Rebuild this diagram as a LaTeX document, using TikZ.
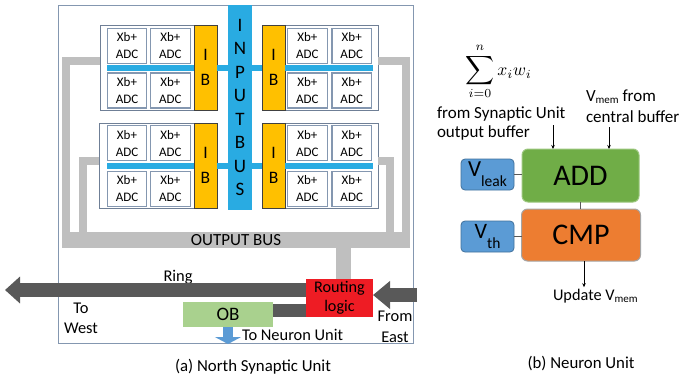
\documentclass[tikz,border=0pt]{standalone}
\usepackage{fontspec}
\usepackage{graphicx}
\setmainfont{Carlito}
\usetikzlibrary{arrows.meta}
\definecolor{busblue}{HTML}{29ABE2}
\definecolor{ibgold}{HTML}{FFC000}
\definecolor{obusc}{HTML}{BFBFBF}
\definecolor{ringc}{HTML}{595959}
\definecolor{routec}{HTML}{EE1C24}
\definecolor{obgreen}{HTML}{A9D18E}
\definecolor{nblue}{HTML}{5B9BD5}
\definecolor{nbluedark}{HTML}{41719C}
\definecolor{addgreen}{HTML}{70AD47}
\definecolor{addborder}{HTML}{9CC77F}
\definecolor{cmporange}{HTML}{ED7D31}
\definecolor{cmpborder}{HTML}{A5A5A5}
\definecolor{framec}{HTML}{8497B0}
\definecolor{grpc}{HTML}{6F7F96}
\definecolor{cellc}{HTML}{8497B0}
\tikzset{
  unitframe/.style={draw=framec, line width=1pt},
  grp/.style={draw=grpc, line width=1pt, fill=white, minimum height=85pt},
  cellbox/.style={draw=cellc, line width=1.1pt, fill=white, minimum width=39.5pt, minimum height=35pt, align=center, font=\fontsize{13}{17}\selectfont},
  ibbox/.style={draw=black!75, line width=0.8pt, fill=ibgold, minimum width=23pt, minimum height=85pt, align=center, font=\fontsize{17.5}{25}\selectfont},
  ibus/.style={fill=busblue, align=center, font=\fontsize{19}{23.5}\selectfont},
  bline/.style={draw=busblue, line width=6pt},
  oloop/.style={draw=obusc, line width=7.5pt},
  obar/.style={fill=obusc, font=\fontsize{17}{17}\selectfont},
  ringline/.style={draw=ringc, line width=14pt},
  lbl/.style={font=\fontsize{16.4}{20.5}\selectfont, align=center},
  nlbl/.style={font=\fontsize{17}{18.7}\selectfont, align=left},
  nbox/.style={rounded corners=6pt, line width=1pt, font=\fontsize{30}{30}\selectfont},
  vbox/.style={rounded corners=4pt, fill=nblue, draw=nbluedark, line width=0.8pt, minimum width=53pt, minimum height=31pt},
  thin/.style={draw=ringc, line width=0.8pt},
  smallarr/.style={draw=black, line width=0.8pt, -{Stealth[length=4pt,width=3.5pt]}},
}
\begin{document}
\begin{tikzpicture}[x=1pt,y=-1pt,every node/.style={inner sep=0pt,outer sep=0pt}]
\fill[white] (0,0) rectangle (679,381);
\useasboundingbox (0,0) rectangle (679,381);

% ---------------- (a) North Synaptic Unit ----------------
\node[unitframe, minimum width=355pt, minimum height=338pt] (unit) at (235.5,174) {};

\node[grp, minimum width=117pt] (gtl) at (158.5,67.5) {};
\node[grp, minimum width=116pt] (gtr) at (320.25,67.5) {};
\node[grp, minimum width=118pt] (gbl) at (158,165.75) {};
\node[grp, minimum width=116pt] (gbr) at (320.25,165.75) {};

\node[obar, minimum width=348pt, minimum height=16pt] (obus) at (236,240) {OUTPUT BUS};
\draw[oloop] ([yshift=6.5pt]gtl.west) -| ([xshift=4pt]obus.north west);
\draw[oloop] ([yshift=6.5pt]gtr.east) -| ([xshift=-4pt]obus.north east);
\draw[oloop] ([yshift=4.75pt]gbl.west) -| ([xshift=21pt]obus.north west);
\draw[oloop] ([yshift=4.75pt]gbr.east) -| ([xshift=-20pt]obus.north east);

\node[ibus, minimum width=24pt, minimum height=205pt] (inbus) at (240,107.5) {I\\N\\P\\U\\T\\B\\U\\S};

\node[ibbox] (ibtl) at (205.5,67.5) {I\\B};
\node[ibbox] (ibtr) at (273.6,67.5) {I\\B};
\node[ibbox] (ibbl) at (205.5,165.75) {I\\B};
\node[ibbox] (ibbr) at (273.6,165.75) {I\\B};

\draw[bline] ([xshift=7pt]gtl.west) -- (ibtl.west);
\draw[bline] (ibtl.east) -- (inbus.west |- ibtl.east);
\draw[bline] (inbus.east |- ibtr.west) -- (ibtr.west);
\draw[bline] (ibtr.east) -- ([xshift=-5pt]gtr.east);
\draw[bline] ([xshift=8pt]gbl.west) -- (ibbl.west);
\draw[bline] (ibbl.east) -- (inbus.west |- ibbl.east);
\draw[bline] (inbus.east |- ibbr.west) -- (ibbr.west);
\draw[bline] (ibbr.east) -- ([xshift=-5pt]gbr.east);

\foreach \g/\xa/\xb/\ya/\yb in {tl/127/170.3/45.8/90.5, tr/307.3/351.7/45.8/90.5, bl/127/170.3/143.3/188.7, br/307.3/351.7/143.3/188.7}{
  \node[cellbox] (c-\g-1) at (\xa,\ya) {Xb+\\ADC};
  \node[cellbox] (c-\g-2) at (\xb,\ya) {Xb+\\ADC};
  \node[cellbox] (c-\g-3) at (\xa,\yb) {Xb+\\ADC};
  \node[cellbox] (c-\g-4) at (\xb,\yb) {Xb+\\ADC};
}

\node[fill=routec, minimum width=67pt, minimum height=38pt, align=center, font=\fontsize{16.2}{18.7}\selectfont] (route) at (339.5,298) {Routing\\logic};
\draw[obusc, line width=15pt] ([xshift=4pt]route.north) -- ([xshift=4pt]route.north |- obus.south);

\node[fill=obgreen, minimum width=90pt, minimum height=25pt, font=\fontsize{19}{19}\selectfont] (ob) at (228,314.5) {OB};

\node[lbl, anchor=base] (ringlbl) at (178,281.5) {Ring};
\coordinate (west) at (5,290);
\coordinate (east) at (417,295);
\coordinate (nu) at (229,344);
\draw[ringline, -{Triangle[length=15pt,width=26pt]}] ([yshift=8pt]route.west) -- ([yshift=8pt]route.west -| west);
\draw[ringline, -{Triangle[length=17pt,width=27pt]}] (east) -- (route.east |- east);
\draw[ringc, line width=13pt] ([yshift=4pt]ob.east) -- ([yshift=4pt]ob.east -| route.west);
\draw[nblue, line width=10pt, -{Triangle[length=7pt,width=26pt]}] (ob.south) -- (ob.south |- nu);

\node[lbl] (towest) at (81,318.5) {To\\West};
\node[lbl] (fromeast) at (395,326.8) {From\\East};
\node[lbl, anchor=base west] (toneuron) at (242,340) {To Neuron Unit};
\node[font=\fontsize{16.8}{16.8}\selectfont, anchor=base] (capa) at (253,371) {(a) North Synaptic Unit};

% ---------------- (b) Neuron Unit ----------------
\node (sum) at (498.5,71.7) {\scalebox{1.75}{$\displaystyle\mathop{\scalebox{1.15}{$\displaystyle\sum$}}_{i=0}^{n} x_i w_i$}};
\node[nlbl, anchor=west] (fsu) at (437,123.7) {from Synaptic Unit\\output buffer};
\node[font=\fontsize{17}{20.7}\selectfont, align=left, anchor=west] (vmem) at (586,106) {V\raisebox{-2.5pt}{\fontsize{11}{11}\selectfont mem} from\\central buffer};

\node[nbox, fill=addgreen, draw=addborder, minimum width=117pt, minimum height=53pt] (add) at (580.5,175.5) {ADD};
\node[nbox, fill=cmporange, draw=cmpborder, minimum width=119pt, minimum height=52pt] (cmp) at (581,235) {CMP};
\node[vbox] (vleak) at (487.5,174.5) {\fontsize{23}{23}\selectfont V\raisebox{-10pt}{\fontsize{15.5}{15.5}\selectfont leak}};
\node[vbox] (vth) at (487.5,236.5) {\fontsize{22}{22}\selectfont V\raisebox{-10pt}{\fontsize{15.5}{15.5}\selectfont th}};

\draw[thin] (vleak.east) -- (vleak.east -| add.west);
\draw[thin] (vth.east) -- (vth.east -| cmp.west);
\draw[thin] (add.south) -- (add.south |- cmp.north);

\coordinate (su) at (553,125);
\coordinate (cb) at (609,127);
\draw[smallarr] (su) -- (su |- add.north);
\draw[smallarr] (cb) -- (cb |- add.north);

\node[anchor=base west, font=\fontsize{16.3}{16.3}\selectfont] (upd) at (553,300) {Update V\raisebox{-2.5pt}{\fontsize{11}{11}\selectfont mem}};
\draw[smallarr, shorten >=1.5pt] ([xshift=3pt]cmp.south) -- ([xshift=3pt]cmp.south |- upd.north);

\node[font=\fontsize{16.8}{16.8}\selectfont, anchor=base] (capb) at (581,368.3) {(b) Neuron Unit};
\end{tikzpicture}
\end{document}
